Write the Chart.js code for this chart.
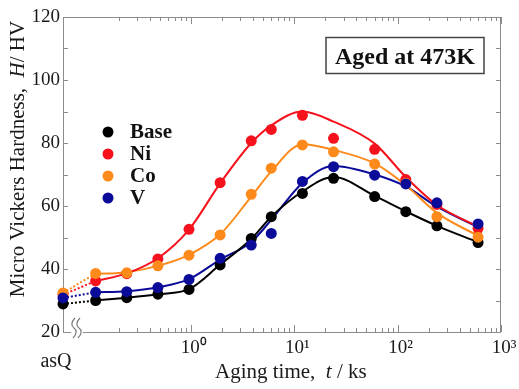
<!DOCTYPE html>
<html>
<head>
<meta charset="utf-8">
<script src="https://cdn.jsdelivr.net/npm/chart.js@4.4.1/dist/chart.umd.min.js"></script>
<style>
  body { margin: 0; background: #fff; }
  #wrap { width: 519px; height: 389px; }
</style>
</head>
<body>
<div id="wrap"><canvas id="myChart"></canvas></div>
<script>
// Datos
const times = [0.12, 0.24, 0.48, 0.96, 1.92, 3.84, 6, 12, 24, 60, 120, 240, 600]; // ks
const xMin = 0.058; // posición "asQ" (borde del eje)
const xMax = 1000;
const labels = ['Base', 'Ni', 'Co', 'V'];
const colores = ['#000000', '#f5121c', '#ff8a1c', '#0b0b9a'];

// valores as-quenched
const asQValues = [28.9, 31.8, 32.4, 30.8];

// puntos medidos
const baseHv = [30.0, 30.9, 32.0, 33.5, 41.3, 49.7, 56.6, 64.0, 68.8, 63.0, 58.2, 53.7, 48.4];
const niHv = [36.2, 38.5, 43.2, 52.6, 67.4, 80.7, 84.3, 88.8, 81.5, 78.0, 68.4, 60.5, 52.9];
const coHv = [38.6, 38.8, 41.0, 44.4, 50.8, 63.7, 72.0, 79.4, 77.2, 73.3, 67.2, 56.6, 50.1];
const vHv = [32.6, 32.8, 34.1, 36.7, 43.4, 47.6, 51.3, 67.8, 72.5, 69.8, 67.0, 61.0, 54.3];

const baseFit = [30.0, 30.9, 32.0, 33.6, 41.4, 49.5, 56.6, 64.6, 69.2, 63.2, 58.3, 53.7, 48.5];
const niFit = [36.2, 38.6, 43.4, 52.5, 67.2, 80.0, 85.6, 90.0, 86.8, 79.8, 69.2, 60.3, 53.4];
const coFit = [38.4, 39.0, 41.0, 44.5, 51.0, 63.0, 71.0, 79.6, 77.8, 73.5, 66.6, 57.8, 50.5];
const vFit = [32.6, 32.9, 34.2, 36.8, 43.0, 48.6, 55.6, 67.3, 72.7, 70.0, 66.2, 59.8, 53.3];

const yTicks = [20, 30, 40, 50, 60, 70, 80, 90, 100, 110, 120];
const decadas = [1, 10, 100, 1000];
const supers = { 1: '10\u2070', 10: '10\u00b9', 100: '10\u00b2', 1000: '10\u00b3' };

const puntos = [baseHv, niHv, coHv, vHv];
const ajustes = [baseFit, niFit, coFit, vFit];

// valores de ticks menores del eje log
const xTickValues = [];
[0.1, 1, 10, 100].forEach((d) => {
    for (let k = 1; k <= 9; k++) {
        const v = +(k * d).toPrecision(3);
        if (v >= 0.2) xTickValues.push(v);
    }
});
xTickValues.push(1000);

const esDecada = (v) => decadas.some((d) => Math.abs(v - d) < 1e-9);

const toXY = (arr) => arr.map((v, i) => ({ x: times[i], y: v }));

// armar datasets
const datasets = [];
const ordenArriba = [3, 2, 1, 0]; // V arriba, luego Co, Ni, Base
labels.forEach((lab, i) => {
    datasets.push({
        type: 'scatter',
        label: lab,
        data: [{ x: xMin, y: asQValues[i] }].concat(toXY(puntos[i])),
        backgroundColor: colores[i],
        borderWidth: 0,
        pointRadius: 5.5,
        showLine: false,
        clip: false,
        order: ordenArriba[i],
    });
    datasets.push({
        type: 'line',
        label: lab + ' fit',
        data: toXY(ajustes[i]),
        borderColor: colores[i],
        borderWidth: 2,
        pointRadius: 0,
        cubicInterpolationMode: 'monotone',
        fill: false,
        order: 10 + i,
    });
    datasets.push({
        type: 'line',
        label: lab + ' asQ',
        data: [{ x: xMin, y: asQValues[i] }, { x: times[0], y: puntos[i][0] }],
        borderColor: colores[i],
        borderWidth: 2,
        borderDash: [2, 2],
        pointRadius: 0,
        fill: false,
        clip: false,
        order: 20 + i,
    });
});

// plugin: marco y ticks hacia adentro
const marco = {
    id: 'marco',
    beforeDatasetsDraw(chart) {
        const { ctx, chartArea: a, scales: { x, y } } = chart;
        ctx.save();
        ctx.strokeStyle = '#8c8c8c';
        ctx.lineWidth = 1;
        ctx.strokeRect(a.left + 0.5, a.top + 0.5, a.right - a.left - 1, a.bottom - a.top);
        ctx.beginPath();
        x.ticks.forEach((t) => {
            const px = Math.round(x.getPixelForValue(t.value)) + 0.5;
            const len = esDecada(t.value) ? 7 : 4;
            ctx.moveTo(px, a.bottom);
            ctx.lineTo(px, a.bottom - len);
            ctx.moveTo(px, a.top);
            ctx.lineTo(px, a.top + len);
        });
        y.ticks.forEach((t) => {
            const py = Math.round(y.getPixelForValue(t.value)) + 0.5;
            ctx.moveTo(a.left, py);
            ctx.lineTo(a.left + 5, py);
            ctx.moveTo(a.right, py);
            ctx.lineTo(a.right - 5, py);
        });
        ctx.stroke();

        // corte del eje (≀≀)
        ctx.fillStyle = '#fff';
        ctx.fillRect(71, a.bottom - 2, 12, 5);
        ctx.strokeStyle = '#7a7a7a';
        ctx.lineWidth = 1.2;
        [74, 79].forEach((bx) => {
            const top = a.bottom - 14;
            ctx.beginPath();
            ctx.moveTo(bx + 1, top);
            ctx.bezierCurveTo(bx - 3, top + 4, bx - 3, top + 8, bx, top + 10);
            ctx.bezierCurveTo(bx + 3, top + 12, bx + 3, top + 16, bx - 1, top + 20);
            ctx.stroke();
        });
        ctx.restore();
    },
    afterDraw(chart) {
        const { ctx } = chart;
        ctx.save();
        ctx.fillStyle = '#1a1a1a';

        // título eje y
        ctx.save();
        ctx.translate(18, 159);
        ctx.rotate(-Math.PI / 2);
        const partesY = [
            ['21px "Liberation Serif"', 'Micro Vickers Hardness,  '],
            ['italic 21px "Liberation Serif"', 'H'],
            ['21px "Liberation Serif"', '/ HV'],
        ];
        dibujarPartes(ctx, partesY, null);
        ctx.restore();

        // título eje x
        ctx.save();
        ctx.translate(215, 378);
        const partesX = [
            ['21px "Liberation Serif"', 'Aging time,  '],
            ['italic 21px "Liberation Serif"', 't'],
            ['21px "Liberation Serif"', ' / ks'],
        ];
        dibujarPartes(ctx, partesX, 0);
        ctx.restore();

        // asQ
        ctx.font = '20px "Liberation Serif"';
        ctx.textAlign = 'center';
        ctx.textBaseline = 'alphabetic';
        ctx.fillText('asQ', 56, 367);

        // leyenda
        ctx.font = 'bold 21px "Liberation Serif"';
        ctx.textAlign = 'left';
        ctx.textBaseline = 'middle';
        labels.forEach((lab, i) => {
            const ly = 132 + i * 22;
            ctx.fillStyle = colores[i];
            ctx.beginPath();
            ctx.arc(108, ly, 5.5, 0, Math.PI * 2);
            ctx.fill();
            ctx.fillStyle = '#111';
            ctx.fillText(lab, 130, ly + 1);
        });

        // recuadro
        ctx.strokeStyle = '#444';
        ctx.lineWidth = 1.5;
        ctx.strokeRect(326, 37.5, 158, 36);
        ctx.fillStyle = '#111';
        ctx.font = 'bold 24px "Liberation Serif"';
        ctx.textAlign = 'center';
        ctx.textBaseline = 'alphabetic';
        ctx.fillText('Aged at 473K', 405, 64);
        ctx.restore();
    },
};

// dibuja texto con partes de distinta fuente; start null = centrado
function dibujarPartes(ctx, partes, start) {
    ctx.textAlign = 'left';
    ctx.textBaseline = start === null ? 'middle' : 'alphabetic';
    let total = 0;
    partes.forEach(([f, s]) => { ctx.font = f; total += ctx.measureText(s).width; });
    let px = start === null ? -total / 2 : start;
    partes.forEach(([f, s]) => {
        ctx.font = f;
        ctx.fillText(s, px, 0);
        px += ctx.measureText(s).width;
    });
}

Chart.defaults.font.family = '"Liberation Serif", serif';
Chart.defaults.color = '#1a1a1a';

const config = {
    data: { datasets },
    options: {
        responsive: true,
        maintainAspectRatio: false,
        animation: false,
        events: [],
        layout: { padding: { top: 17, right: 18, left: 0, bottom: 0 } },
        plugins: { legend: { display: false }, tooltip: { enabled: false } },
        scales: {
            x: {
                type: 'logarithmic',
                min: xMin,
                max: xMax,
                grid: { display: false, drawTicks: false },
                border: { display: false },
                afterBuildTicks: (scale) => {
                    scale.ticks = xTickValues.map((v) => ({ value: v, major: esDecada(v) }));
                },
                afterFit: (scale) => { scale.height = 57; },
                ticks: {
                    autoSkip: false,
                    maxRotation: 0,
                    padding: 5,
                    labelOffset: 3,
                    font: { size: 19 },
                    callback: (v) => (esDecada(v) ? supers[Math.round(v)] : ''),
                },
            },
            y: {
                type: 'linear',
                min: 20,
                max: 120,
                grid: { display: false, drawTicks: false },
                border: { display: false },
                afterBuildTicks: (scale) => {
                    scale.ticks = yTicks.map((v) => ({ value: v }));
                },
                afterFit: (scale) => { scale.width = 63; },
                ticks: {
                    padding: 3,
                    font: { size: 19 },
                    callback: (v) => (v % 20 === 0 ? v : ''),
                },
            },
        },
    },
    plugins: [marco],
};

const myChart = new Chart(document.getElementById('myChart'), config);
</script>
</body>
</html>
